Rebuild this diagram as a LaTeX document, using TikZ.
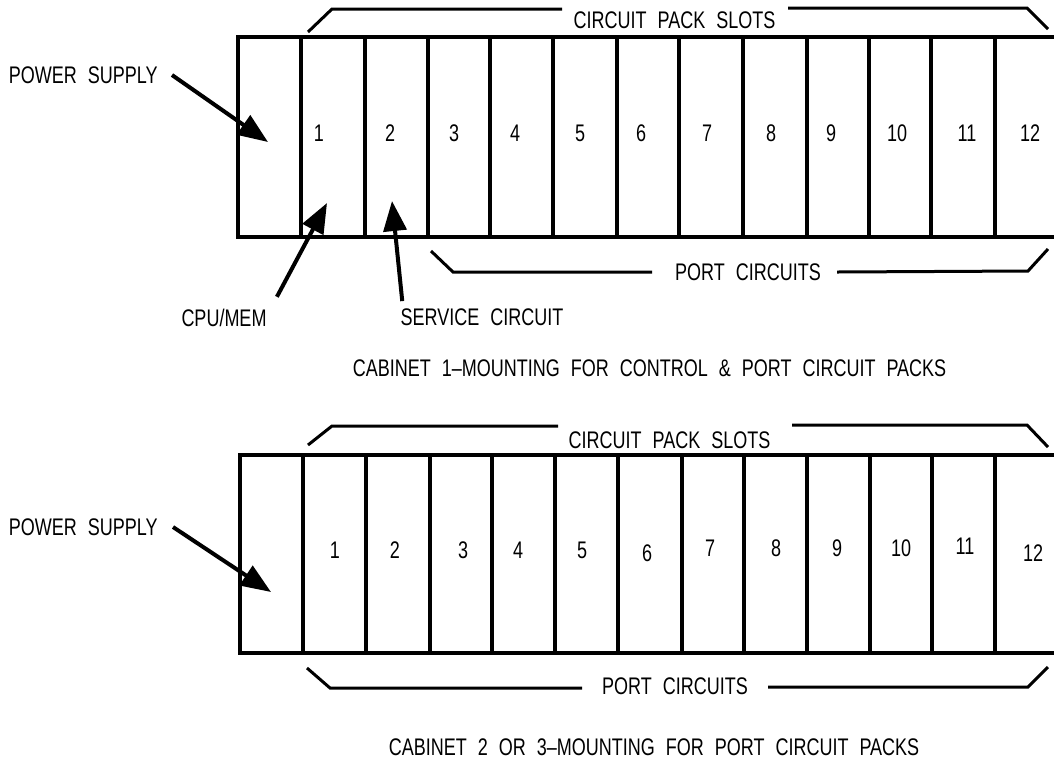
\documentclass[tikz,border=0pt]{standalone}
\usepackage{fontspec}
\setmainfont[FakeStretch=0.75,WordSpace=2.2]{Liberation Sans}
\usetikzlibrary{arrows.meta}

\begin{document}
\begin{tikzpicture}[x=0.5pt,y=-0.5pt,>={Triangle[length=15pt,width=11.5pt]},
  lbl/.style={font=\fontsize{12}{14}\selectfont,inner sep=0pt},
  frame/.style={line width=2pt},
  brace/.style={line width=1.5pt},
  pointer/.style={->,line width=2pt}]
\clip (0,0) rectangle (1054,767);

% Cabinet 1: control and port slots
\draw[frame] (1070,37) -- (238,37) -- (238,237) -- (1070,237);
\foreach \x in {301,365,428,490,553,617,679,743,807,869,931,995}
  \draw[frame] (\x,37) -- (\x,237);
\foreach \n/\x in {1/319,2/390,3/454,4/515,5/580,6/641,7/707,8/771,9/831,10/897,11/967,12/1030}
  \node[lbl] (ca\n) at (\x,133) {\n};

% brackets above and below
\node[lbl] (slotsa) at (674.5,20.5) {CIRCUIT PACK SLOTS};
\draw[brace] (308,32) -- (332,9) -- (562,9);
\draw[brace] (788,8) -- (1027,8) -- (1048,29);
\node[lbl] (porta) at (748,272) {PORT CIRCUITS};
\draw[brace] (431,251) -- (453,272) -- (652,272);
\draw[brace] (837,272) -- (1028,271) -- (1048,249);

% pointers
\node[lbl,anchor=east] (psa) at (158,75) {POWER SUPPLY};
\coordinate (psatip) at (268,142);
\draw[pointer] ([xshift=7pt]psa.east) -- (psatip);
\node[lbl] (cpu) at (224,318) {CPU/MEM};
\coordinate (cputip) at (327,203);
\draw[pointer] ([shift={(10,-12)}]cpu.north east) -- (cputip);
\node[lbl] (svc) at (482,317) {SERVICE CIRCUIT};
\coordinate (svctip) at (392,201);
\draw[pointer] ([shift={(2,-7)}]svc.north west) -- (svctip);

\node[lbl] (capa) at (649.5,368) {CABINET 1--MOUNTING FOR CONTROL \& PORT CIRCUIT PACKS};

% Cabinet 2 or 3: port slots only
\draw[frame] (1070,455) -- (240,455) -- (240,653) -- (1070,653);
\foreach \x in {303,366,430,492,555,618,682,744,807,870,932,995}
  \draw[frame] (\x,455) -- (\x,653);
\foreach \n/\x/\y in {1/335/550,2/395/550,3/463/550,4/518/550,5/582/550,6/647/553,7/710/548,8/776/548,9/837/548,10/901/548,11/965/546,12/1033/553}
  \node[lbl] (cb\n) at (\x,\y) {\n};

\node[lbl] (slotsb) at (669.5,440) {CIRCUIT PACK SLOTS};
\draw[brace] (308,445) -- (332,426) -- (558,426);
\draw[brace] (792,425) -- (1027,425) -- (1048,447);
\node[lbl] (portb) at (675,686) {PORT CIRCUITS};
\draw[brace] (307,668) -- (330,688) -- (582,688);
\draw[brace] (768,687) -- (1028,687) -- (1048,667);

\node[lbl,anchor=east] (psb) at (158,527) {POWER SUPPLY};
\coordinate (psbtip) at (271,592);
\draw[pointer] ([xshift=7.5pt]psb.east) -- (psbtip);

\node[lbl] (capb) at (654,747) {CABINET 2 OR 3--MOUNTING FOR PORT CIRCUIT PACKS};
\end{tikzpicture}
\end{document}
